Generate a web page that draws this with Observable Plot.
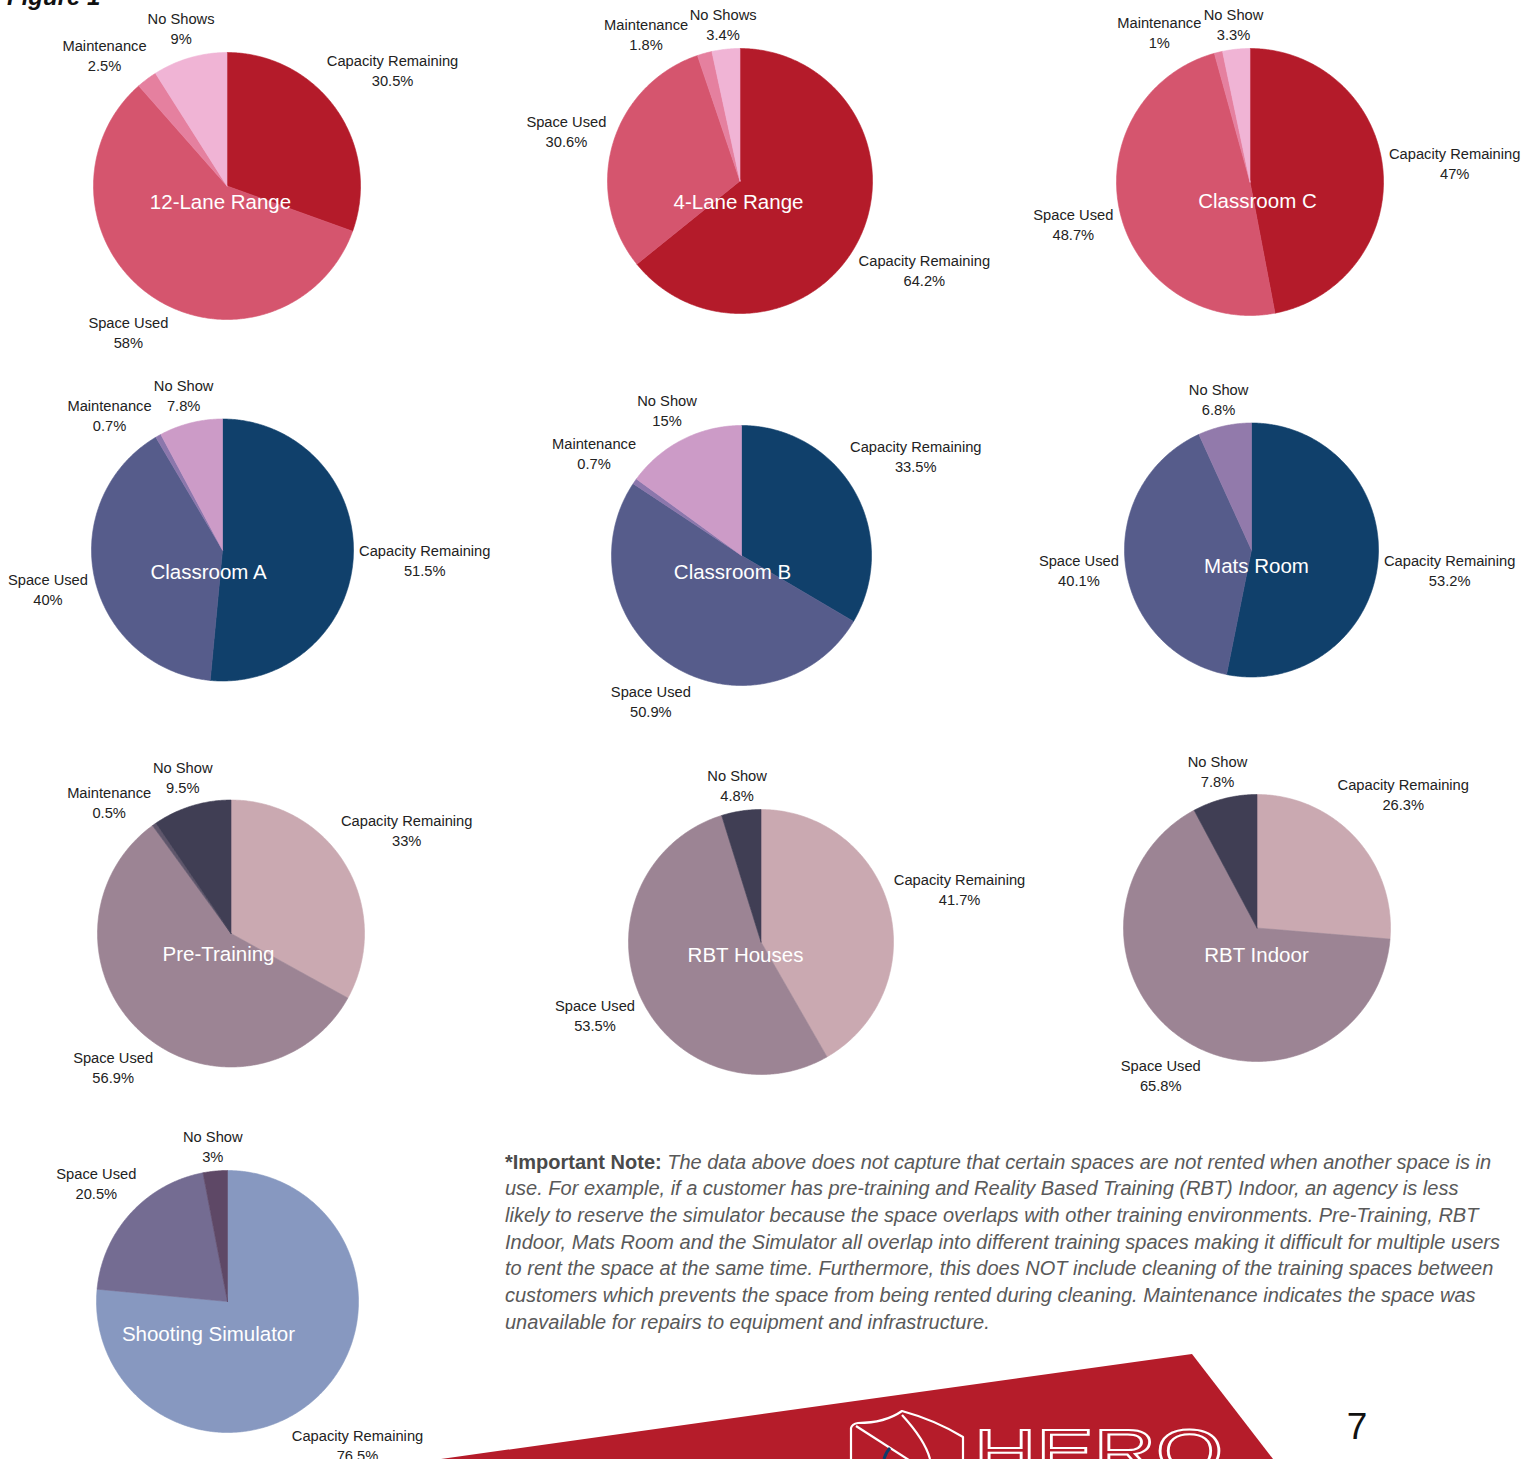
<!DOCTYPE html>
<html>
<head>
<meta charset="utf-8">
<script src="https://cdn.jsdelivr.net/npm/d3@7"></script>
<script src="https://cdn.jsdelivr.net/npm/@observablehq/plot@0.6"></script>
<style>
  body { margin: 0; background: #fff; }
  #page { position: relative; width: 1533px; height: 1459px; overflow: hidden; font-family: "Liberation Sans", Arial, sans-serif; }
  #chart { position: absolute; left: 0; top: 0; }
  #deco { position: absolute; left: 0; top: 0; }
  #note { position: absolute; left: 505px; color: #595959; white-space: nowrap; font-family: "Liberation Sans", Arial, sans-serif; }
  #note .line { display: block; font-style: italic; }
  #note b { font-style: normal; color: #4a4a4a; }
</style>
</head>
<body>
<div id="page">
  <div id="chart"></div>
  <svg id="deco" width="1533" height="1459">
    <text x="7" y="5" font-size="24" font-weight="bold" font-style="italic" fill="#111" font-family="Liberation Sans, Arial, sans-serif">Figure 1</text>
    <polygon points="441,1459 1192,1354 1273,1459" fill="#B51C2A"></polygon>
    <g fill="none" stroke="#fff" stroke-width="2.2" stroke-linejoin="round">
      <path d="M851,1459 V1428 Q852,1424 858,1423 Q885,1423 902,1411 Q935,1420 963,1437 V1459"></path>
      <path d="M856,1426 L912,1462"></path>
      <path d="M902,1415 Q925,1440 930,1459"></path>
    </g>
    <path d="M884,1459 Q886,1452 890,1448" stroke="#0E3D6B" stroke-width="3" fill="none"></path>
    <text x="974" y="1472" font-size="62" fill="none" stroke="#fff" stroke-width="2" textLength="249" lengthAdjust="spacingAndGlyphs" font-family="Liberation Sans, Arial, sans-serif">HERO</text>
    <text x="1357" y="1439" font-size="37" text-anchor="middle" fill="#111" font-family="Liberation Sans, Arial, sans-serif">7</text>
  </svg>
  <div id="note"></div>
</div>
<script>
// ---------------- DATA ----------------
const pieNames = ["12-Lane Range", "4-Lane Range", "Classroom C", "Classroom A", "Classroom B", "Mats Room", "Pre-Training", "RBT Houses", "RBT Indoor", "Shooting Simulator"];
const categories = ["Capacity Remaining", "Space Used", "Maintenance", "No Show"];
const capacityRemaining = [30.5, 64.2, 47, 51.5, 33.5, 53.2, 33, 41.7, 26.3, 76.5];
const spaceUsed =         [58,   30.6, 48.7, 40, 50.9, 40.1, 56.9, 53.5, 65.8, 20.5];
const maintenance =       [2.5,  1.8,  1,   0.7, 0.7, null, 0.5, null, null, null];
const noShow =            [9,    3.4,  3.3, 7.8, 15,  6.8,  9.5, 4.8,  7.8,  3];
const noShowLabels = ["No Shows", "No Shows", "No Show", "No Show", "No Show", "No Show", "No Show", "No Show", "No Show", "No Show"];
const noteLines = [
  "The data above does not capture that certain spaces are not rented when another space is in",
  "use. For example, if a customer has pre-training and Reality Based Training (RBT) Indoor, an agency is less",
  "likely to reserve the simulator because the space overlaps with other training environments. Pre-Training, RBT",
  "Indoor, Mats Room and the Simulator all overlap into different training spaces making it difficult for multiple users",
  "to rent the space at the same time. Furthermore, this does NOT include cleaning of the training spaces between",
  "customers which prevents the space from being rented during cleaning. Maintenance indicates the space was",
  "unavailable for repairs to equipment and infrastructure."
];
const noteLead = "*Important Note:";

// ---------------- STYLES ----------------
const redPal   = ["#B41B2A", "#D5556E", "#E5809F", "#F0B4D5"];
const bluePal  = ["#10406B", "#565C8B", "#8B77AC", "#CC9BC7"];
const matsPal  = ["#10406B", "#565C8B", "#8B77AC", "#927AAB"];
const mauvePal = ["#CAA9B1", "#9C8494", "#5F566B", "#403E54"];
const simPal   = ["#8798C0", "#746C92", "#5F566B", "#5E4866"];
const palettes = [redPal, redPal, redPal, bluePal, bluePal, matsPal, mauvePal, mauvePal, mauvePal, simPal];

// ---------------- LAYOUT ----------------
const layout = [
  {cx: 226.5, cy: 185.5, r: 133.5, tdx: -6.5, tdy: 16.5},
  {cx: 739.5, cy: 180.5, r: 132.5, tdx: -1.5, tdy: 21.5},
  {cx: 1249.5, cy: 181.5, r: 133.5, tdx: 7.5, tdy: 19.5},
  {cx: 222, cy: 549.5, r: 131, tdx: -14, tdy: 22.5},
  {cx: 741, cy: 555, r: 130, tdx: -9, tdy: 17},
  {cx: 1251, cy: 549.5, r: 127, tdx: 5, tdy: 16.5},
  {cx: 230.5, cy: 933, r: 133.5, tdx: -12.5, tdy: 21},
  {cx: 760.5, cy: 941.5, r: 132.5, tdx: -15.5, tdy: 13.5},
  {cx: 1256.5, cy: 927.5, r: 133.5, tdx: -0.5, tdy: 27.5},
  {cx: 227, cy: 1301, r: 131, tdx: -19, tdy: 33}
];
const LABEL_SIZE = 14.7, LABEL_LH = 20, PAD = 5, HH = 17.5;
const FONT = "Liberation Sans";

// ---------------- BUILD ----------------
const ctx = document.createElement("canvas").getContext("2d");
function tw(s, f) { ctx.font = f; return ctx.measureText(s).width; }

const polys = [], labels = [], titles = [];
pieNames.forEach((name, i) => {
  const L = layout[i];
  const vals = [capacityRemaining[i], spaceUsed[i], maintenance[i], noShow[i]];
  const names = [categories[0], categories[1], categories[2], noShowLabels[i]];
  const slices = [];
  vals.forEach((v, k) => { if (v != null) slices.push({v, name: names[k], color: palettes[i][k], k}); });
  const total = d3.sum(slices, d => d.v);
  const pie = d3.pie().sort(null).value(d => d.v)(slices);
  pie.forEach(p => {
    const key = i + "-" + p.data.k;
    const a0 = p.startAngle, a1 = p.endAngle;
    const n = Math.max(2, Math.ceil((a1 - a0) / (Math.PI / 360)));
    polys.push({x: L.cx, y: L.cy, key, color: p.data.color});
    for (let j = 0; j <= n; j++) {
      const t = a0 + (a1 - a0) * j / n;
      polys.push({x: L.cx + L.r * Math.sin(t), y: L.cy - L.r * Math.cos(t), key, color: p.data.color});
    }
    polys.push({x: L.cx, y: L.cy, key, color: p.data.color});
    p.mid = (a0 + a1) / 2;
  });
  // label placement with simple collision avoidance
  const order = pie.slice().sort((a, b) => b.data.v - a.data.v);
  const placed = [];
  const pos = (ang, hw) => {
    const dx = Math.sin(ang), dy = -Math.cos(ang);
    const d = L.r + PAD + hw * Math.abs(dx) + HH * Math.abs(dy);
    return {x: L.cx + d * dx, y: L.cy + d * dy};
  };
  const hits = (b) => placed.find(o => Math.abs(o.x - b.x) < o.hw + b.hw + 1 && Math.abs(o.y - b.y) < 2 * HH + 1);
  order.forEach(p => {
    const pct = String(p.data.v) + "%";
    const w = Math.max(tw(p.data.name, `${LABEL_SIZE}px "${FONT}"`), tw(pct, `${LABEL_SIZE}px "${FONT}"`));
    const hw = w / 2;
    let ang = p.mid;
    let b = {...pos(ang, hw), hw};
    let o = hits(b);
    if (o) {
      const dir = Math.sign(p.mid - o.mid) || -1;
      for (let s = 0; s < 160 && hits(b); s++) {
        ang += dir * Math.PI / 360;
        b = {...pos(ang, hw), hw};
      }
    }
    b.mid = p.mid;
    placed.push(b);
    labels.push({x: b.x, y: b.y, text: p.data.name + "\n" + pct});
  });
  titles.push({x: L.cx + L.tdx, y: L.cy + L.tdy, text: name});
});

const chart = Plot.plot({
  width: 1533,
  height: 1459,
  margin: 0,
  x: {domain: [0, 1533], range: [0, 1533], axis: null},
  y: {domain: [0, 1459], range: [0, 1459], axis: null},
  color: {type: "identity"},
  style: {background: "transparent", fontFamily: `"${FONT}", Arial, sans-serif`, overflow: "visible"},
  marks: [
    Plot.line(polys, {x: "x", y: "y", z: "key", fill: "color", stroke: "color", strokeWidth: 0.6, curve: "linear"}),
    Plot.text(labels, {x: "x", y: "y", text: "text", fontSize: LABEL_SIZE, lineHeight: LABEL_LH / LABEL_SIZE, fill: "#222", textAnchor: "middle"}),
    Plot.text(titles, {x: "x", y: "y", text: "text", fontSize: 20.5, fill: "#fff", textAnchor: "middle"})
  ]
});
document.getElementById("chart").appendChild(chart);

// ---------------- NOTE ----------------
const w20 = tw(noteLead + " ", `bold 20px "${FONT}"`) + tw(noteLines[0], `italic 20px "${FONT}"`);
const nfs = 20 * 987 / w20;
const note = document.getElementById("note");
note.style.fontSize = nfs + "px";
note.style.lineHeight = "26.7px";
note.style.top = (1162 - 13.35) + "px";
noteLines.forEach((t, i) => {
  const s = document.createElement("span");
  s.className = "line";
  if (i === 0) {
    const b = document.createElement("b");
    b.textContent = noteLead + " ";
    s.appendChild(b);
  }
  s.appendChild(document.createTextNode(t));
  note.appendChild(s);
});
</script>
</body>
</html>
